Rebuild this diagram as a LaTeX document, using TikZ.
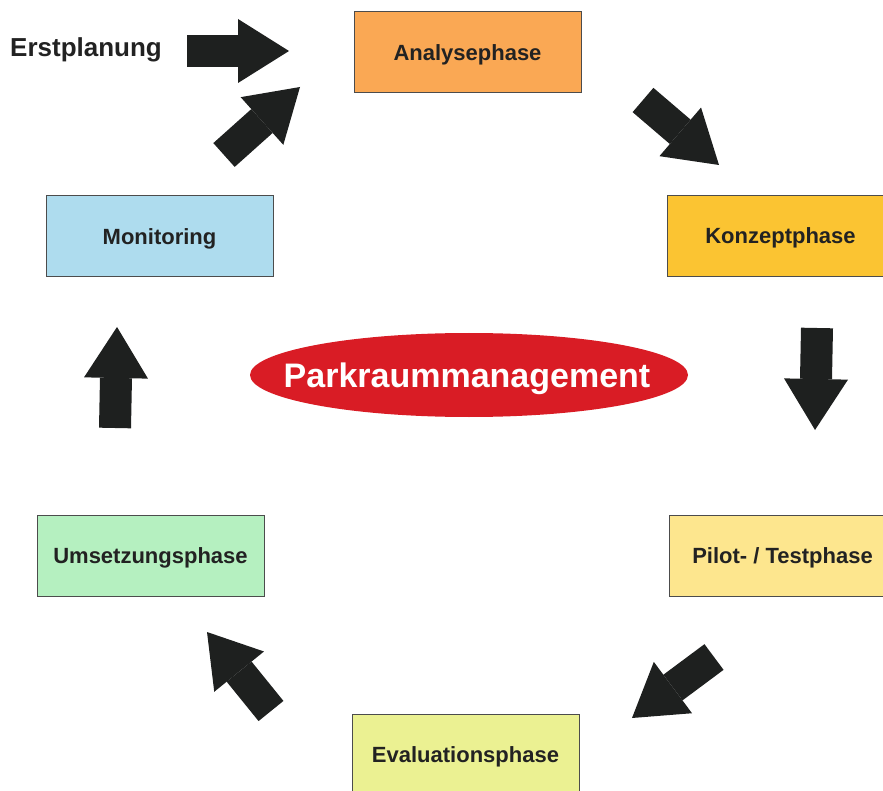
\documentclass[tikz,border=0pt]{standalone}
\usepackage{fontspec}
\setmainfont{Liberation Sans}
\usetikzlibrary{arrows.meta}
\definecolor{anacol}{RGB}{250,168,84}
\definecolor{konzcol}{RGB}{251,196,50}
\definecolor{pilotcol}{RGB}{253,230,142}
\definecolor{evalcol}{RGB}{235,241,146}
\definecolor{umscol}{RGB}{181,240,192}
\definecolor{moncol}{RGB}{174,220,238}
\definecolor{pmred}{RGB}{217,28,37}
\definecolor{pfeilcol}{RGB}{30,32,31}
\definecolor{textcol}{RGB}{34,34,34}
\tikzset{
	% Phase boxes
	phase/.style={draw=black!70, line width=1pt, minimum width=227pt, minimum height=81pt,
		inner sep=0pt, text=textcol, text height=16pt, text depth=0pt,
		font=\fontsize{22}{26}\selectfont\bfseries},
	% Block arrows
	pfeil/.style={pfeilcol, line width=32pt, -{Triangle[width=64pt,length=51pt,line width=0pt]}}
}

\begin{document}
\begin{tikzpicture}[x=1pt,y=-1pt]
		\useasboundingbox (0,0) rectangle (883,791);
		\node [phase, fill=anacol]   (ana)   at (467.5,52.5) {Analysephase};
		\node [phase, fill=konzcol]  (konz)  at (780.5,236)  {Konzeptphase};
		\node [phase, fill=pilotcol] (pilot) at (782.5,555.5) {Pilot- / Testphase};
		\node [phase, fill=evalcol]  (eval)  at (465.5,754.5) {Evaluationsphase};
		\node [phase, fill=umscol]   (ums)   at (150.5,555.5) {Umsetzungsphase};
		\node [phase, fill=moncol]   (mon)   at (159.5,236.5) {Monitoring};
		\fill [pmred] (469,375) ellipse [x radius=219, y radius=42];
		\node [text=white, inner sep=0pt, text height=24pt, text depth=0pt,
			font=\fontsize{34}{40}\selectfont\bfseries] (pm) at (467,375) {Parkraummanagement};
		\node [anchor=base west, text=textcol, inner sep=0pt, font=\fontsize{26}{30}\selectfont\bfseries]
			(erst) at (10,57) {Erstplanung};
		\coordinate (s1) at (187,51);  \coordinate (e1) at (289,51);
		\coordinate (s2) at (224,155); \coordinate (e2) at (300,87);
		\coordinate (s3) at (643,100); \coordinate (e3) at (719,165);
		\coordinate (s4) at (817,328); \coordinate (e4) at (815,430);
		\coordinate (s5) at (714,657); \coordinate (e5) at (632,718);
		\coordinate (s6) at (271,711); \coordinate (e6) at (207,632);
		\coordinate (s7) at (115,428); \coordinate (e7) at (117,327);
		\foreach \i in {1,...,7}
			\draw [pfeil] (s\i) -- (e\i);
	\end{tikzpicture}
\end{document}
